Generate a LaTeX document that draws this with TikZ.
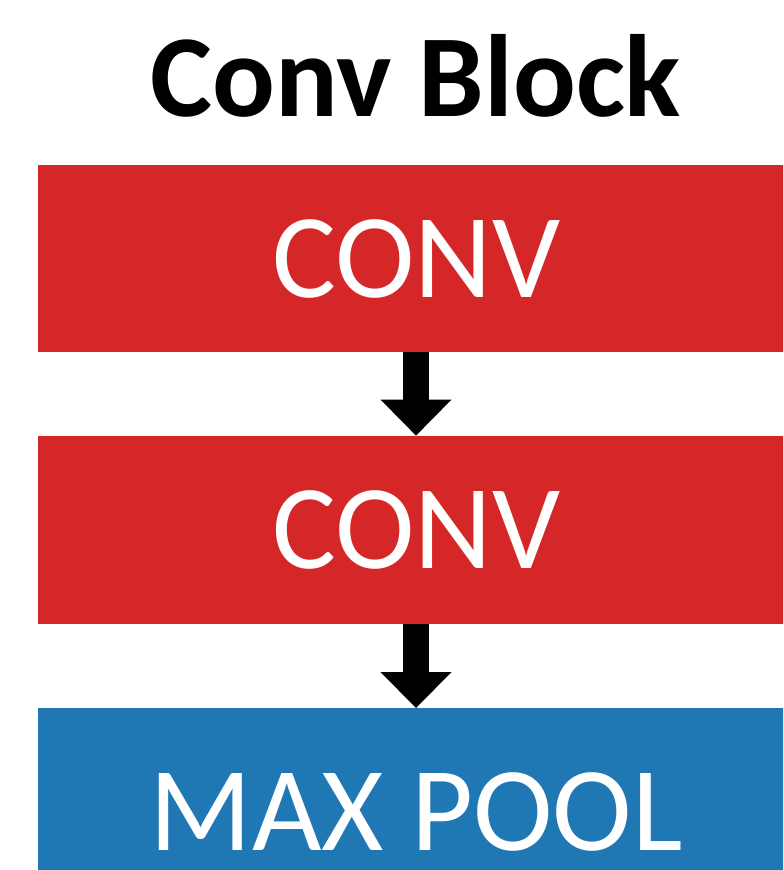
\documentclass[tikz,border=0pt]{standalone}
\usepackage{fontspec}
\setmainfont{Carlito}
\usetikzlibrary{arrows.meta}
\definecolor{convred}{HTML}{D62728}
\definecolor{poolblue}{HTML}{1F77B4}
\begin{document}
\begin{tikzpicture}[x=0.5pt, y=-0.5pt,
   layer/.style={minimum width=378pt, inner sep=0pt, text=white,
     font=\fontsize{60}{60}\selectfont},
   flow/.style={line width=13pt,
     -{Triangle[length=18pt 0 0, width=35.5pt 0 0, line width=0pt 0 0]}}]
   \useasboundingbox (0,0) rectangle (783,870);
   \clip (0,0) rectangle (783,870);
   \node[font=\bfseries\fontsize{58.5}{58.5}\selectfont] (title) at (416,76) {Conv Block};
   \node[layer, fill=convred, minimum height=93.5pt] (conv1) at (416,258.5) {CONV};
   \node[layer, fill=convred, minimum height=94pt] (conv2) at (416,530) {CONV};
   % blue box runs to the bottom edge
   \node[layer, fill=poolblue, text height=71pt, text depth=10pt, anchor=north] (pool) at (416,708) {MAX POOL};
   \draw[flow] (conv1.south) -- (conv2.north);
   \draw[flow] (conv2.south) -- (pool.north);
  \end{tikzpicture}
\end{document}
